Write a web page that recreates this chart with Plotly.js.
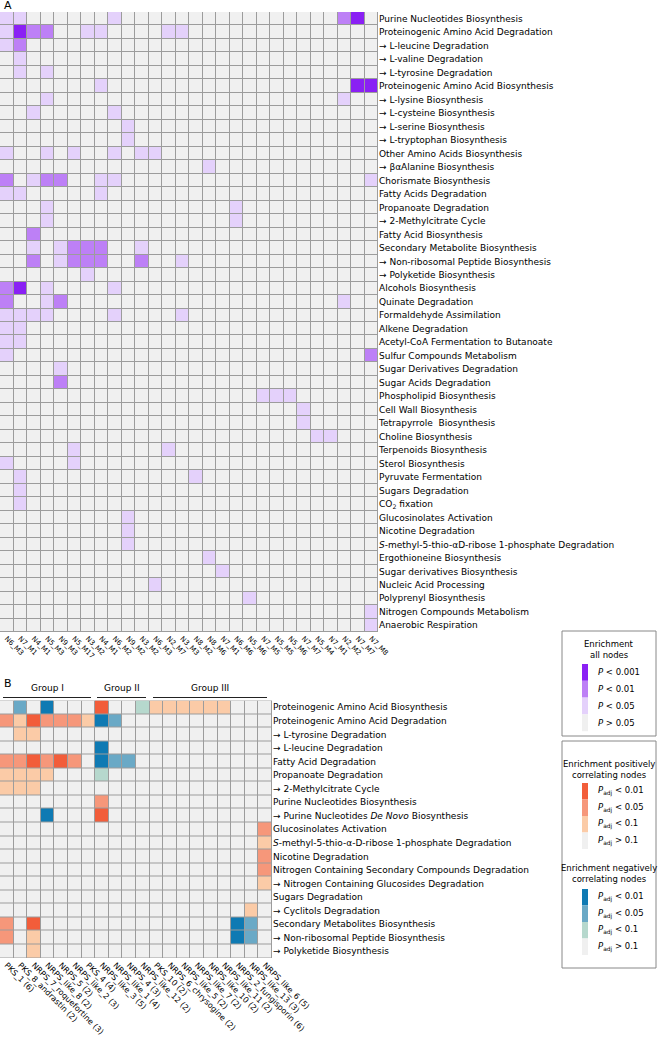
<!DOCTYPE html>
<html>
<head>
<meta charset="utf-8">
<script src="https://cdn.plot.ly/plotly-3.0.1.min.js"></script>
<style>html,body{margin:0;padding:0;background:#fff;}#chart{width:660px;height:1038px;}</style>
</head>
<body>
<div id="chart"></div>
<script>
// ---------------- Panel A data ----------------
const clustersA = ["N6_M3","N7_M1","N4_M1","N5_M3","N9_M3","N5_M17","N3_M2","N4_M1","N6_M2","N9_M2","N3_M2","N6_M3","N2_M7","N3_M3","N8_M2","N8_M6","N7_M1","N6_M6","N5_M6","N7_M5","N5_M5","N5_M6","N7_M7","N5_M4","N7_M1","N2_M2","N7_M7","N7_M8"];
const pathwaysA = [
"Purine Nucleotides Biosynthesis",
"Proteinogenic Amino Acid Degradation",
"→ L-leucine Degradation",
"→ L-valine Degradation",
"→ L-tyrosine Degradation",
"Proteinogenic Amino Acid Biosynthesis",
"→ L-lysine Biosynthesis",
"→ L-cysteine Biosynthesis",
"→ L-serine Biosynthesis",
"→ L-tryptophan Biosynthesis",
"Other Amino Acids Biosynthesis",
"→ βαAlanine Biosynthesis",
"Chorismate Biosynthesis",
"Fatty Acids Degradation",
"Propanoate Degradation",
"→ 2-Methylcitrate Cycle",
"Fatty Acid Biosynthesis",
"Secondary Metabolite Biosynthesis",
"→ Non-ribosomal Peptide Biosynthesis",
"→ Polyketide Biosynthesis",
"Alcohols Biosynthesis",
"Quinate Degradation",
"Formaldehyde Assimilation",
"Alkene Degradation",
"Acetyl-CoA Fermentation to Butanoate",
"Sulfur Compounds Metabolism",
"Sugar Derivatives Degradation",
"Sugar Acids Degradation",
"Phospholipid Biosynthesis",
"Cell Wall Biosynthesis",
"Tetrapyrrole  Biosynthesis",
"Choline Biosynthesis",
"Terpenoids Biosynthesis",
"Sterol Biosynthesis",
"Pyruvate Fermentation",
"Sugars Degradation",
"CO<sub>2</sub> fixation",
"Glucosinolates Activation",
"Nicotine Degradation",
"<i>S</i>-methyl-5-thio-αD-ribose 1-phosphate Degradation",
"Ergothioneine Biosynthesis",
"Sugar derivatives Biosynthesis",
"Nucleic Acid Processing",
"Polyprenyl Biosynthesis",
"Nitrogen Compounds Metabolism",
"Anaerobic Respiration"];
// enrichment level: 0 = P>0.05, 1 = P<0.05, 2 = P<0.01, 3 = P<0.001
const levelsA = [
[1,1,0,0,0,0,0,0,1,0,0,0,0,0,0,0,0,0,0,0,0,0,0,0,0,2,3,0],
[1,3,2,2,0,0,1,1,0,0,0,0,1,1,0,0,0,0,0,0,0,0,0,0,0,0,0,0],
[1,2,0,0,0,0,0,0,0,0,0,0,0,0,0,0,0,0,0,0,0,0,0,0,0,0,0,0],
[0,1,0,0,0,0,0,0,0,0,0,0,0,0,0,0,0,0,0,0,0,0,0,0,0,0,0,0],
[0,1,0,1,0,0,0,0,0,0,0,0,0,0,0,0,0,0,0,0,0,0,0,0,0,0,0,0],
[0,0,0,0,0,0,0,1,0,0,0,0,0,0,0,0,0,0,0,0,0,0,0,0,0,0,3,3],
[0,0,0,1,0,0,0,0,0,0,0,0,0,0,0,0,0,0,0,0,0,0,0,0,0,1,0,0],
[0,0,1,0,0,0,0,0,1,0,0,0,0,0,0,0,0,0,0,0,0,0,0,0,0,0,0,0],
[0,0,0,0,0,0,0,0,0,1,0,0,0,0,0,0,0,0,0,0,0,0,0,0,0,0,0,0],
[0,0,0,0,0,0,0,0,0,1,0,0,0,0,0,0,0,0,0,0,0,0,0,0,0,0,0,0],
[1,0,0,1,0,1,0,0,1,0,1,1,0,0,0,0,0,0,0,0,0,0,0,0,0,0,0,0],
[0,0,0,0,0,0,0,0,0,0,0,0,0,0,0,1,0,0,0,0,0,0,0,0,0,0,0,0],
[2,0,1,2,2,0,0,1,1,0,0,0,0,0,0,0,0,0,0,0,0,0,0,0,0,0,0,1],
[1,1,0,0,0,0,0,1,0,0,0,0,0,0,0,0,0,0,0,0,0,0,0,0,0,0,0,0],
[0,0,0,1,0,0,0,0,0,0,0,0,0,0,0,0,0,1,0,0,0,0,0,0,0,0,0,0],
[0,0,0,1,0,0,0,0,0,0,0,0,0,0,0,0,0,1,0,0,0,0,0,0,0,0,0,0],
[0,0,2,0,0,0,0,0,0,0,0,0,0,0,0,0,0,0,0,0,0,0,0,0,0,0,0,0],
[0,0,1,0,1,2,2,2,0,0,1,0,0,0,0,0,0,0,0,0,0,0,0,0,0,0,0,0],
[0,0,2,0,1,2,2,2,0,0,2,0,0,1,0,0,0,0,0,0,0,0,0,0,0,0,0,0],
[0,0,0,0,0,0,1,0,0,0,0,0,0,0,0,0,0,0,0,0,0,0,0,0,0,0,0,0],
[2,3,0,1,0,0,0,0,1,0,0,0,0,0,0,0,0,0,0,0,0,0,0,0,0,0,0,0],
[2,0,0,1,2,0,0,0,0,0,0,0,0,0,0,0,0,0,0,0,0,0,0,0,0,1,0,0],
[1,1,1,1,0,0,0,0,1,0,0,0,0,1,0,0,0,0,0,0,0,0,0,0,0,0,0,0],
[1,1,0,0,0,0,0,0,0,0,0,0,0,0,0,0,0,0,0,0,0,0,0,0,0,0,0,0],
[1,1,0,0,0,0,0,0,0,0,0,0,0,0,0,0,0,0,0,0,0,0,0,0,0,0,0,0],
[1,0,0,0,0,0,0,0,0,0,0,0,0,0,0,0,0,0,0,0,0,0,0,0,0,0,0,2],
[0,0,0,0,1,0,0,0,0,0,0,0,0,0,0,0,0,0,0,0,0,0,0,0,0,0,0,0],
[0,0,0,0,2,0,0,0,0,0,0,0,0,0,0,0,0,0,0,0,0,0,0,0,0,0,0,0],
[0,0,0,0,0,0,0,0,0,0,0,0,0,0,0,0,0,0,0,1,1,1,0,0,0,0,0,0],
[0,0,0,0,0,0,0,0,0,0,0,0,0,0,0,0,0,0,0,0,0,0,1,0,0,0,0,0],
[0,0,0,0,0,0,0,0,0,0,0,0,0,0,0,0,0,0,0,0,0,0,1,0,0,0,0,0],
[0,0,0,0,0,0,0,0,0,0,0,0,0,0,0,0,0,0,0,0,0,0,0,1,1,0,0,0],
[0,0,0,0,0,1,0,0,0,0,0,0,1,0,0,0,0,0,0,0,0,0,0,0,0,0,0,0],
[1,0,0,0,0,1,0,0,0,0,0,0,0,0,0,0,0,0,0,0,0,0,0,0,0,0,0,0],
[0,1,0,0,0,0,0,0,0,0,0,0,0,0,1,0,0,0,0,0,0,0,0,0,0,0,0,0],
[0,1,0,0,0,0,0,0,0,0,0,0,0,0,0,0,0,0,0,0,0,0,0,0,0,0,0,0],
[0,1,0,0,0,0,0,0,0,0,0,0,0,0,0,0,0,0,0,0,0,0,0,0,0,0,0,0],
[0,0,0,0,0,0,0,0,0,1,0,0,0,0,0,0,0,0,0,0,0,0,0,0,0,0,0,0],
[0,0,0,0,0,0,0,0,0,1,0,0,0,0,0,0,0,0,0,0,0,0,0,0,0,0,0,0],
[0,0,0,0,0,0,0,0,0,1,0,0,0,0,0,0,0,0,0,0,0,0,0,0,0,0,0,0],
[0,0,0,0,0,0,0,0,0,0,0,0,0,0,0,1,0,0,0,0,0,0,0,0,0,0,0,0],
[0,0,0,0,0,0,0,0,0,0,0,0,0,0,0,0,1,0,0,0,0,0,0,0,0,0,0,0],
[0,0,0,0,0,0,0,0,0,0,0,1,0,0,0,0,0,0,0,0,0,0,0,0,0,0,0,0],
[0,0,0,0,0,0,0,0,0,0,0,0,0,0,0,0,0,0,1,0,0,0,0,0,0,0,0,0],
[0,0,0,0,0,0,0,0,0,0,0,0,0,0,0,0,0,0,0,0,0,0,0,0,0,0,0,1],
[0,0,0,0,0,0,0,0,0,0,0,0,0,0,0,0,0,0,0,0,0,0,0,0,0,0,0,1]];

// ---------------- Panel B data ----------------
const clustersB = ["PKS_1 (6)","PKS_8_andrastin (2)","NRPS_7_roquefortine (3)","NRPS_like_8 (2)","NRPS_5 (2)","NRPS_like_2 (3)","PKS_4 (4)","NRPS_like_3 (5)","NRPS_like_1 (4)","NRPS_4 (3)","NRPS_like_12 (2)","PKS_10 (2)","NRPS_6_chrysogine (2)","NRPS_like_5 (2)","NRPS_like_7 (2)","NRPS_like_10 (2)","NRPS_like_11 (2)","NRPS_2_fungisporin (6)","NRPS_like_13 (3)","NRPS_like_6 (5)"];
const pathwaysB = [
"Proteinogenic Amino Acid Biosynthesis",
"Proteinogenic Amino Acid Degradation",
"→ L-tyrosine Degradation",
"→ L-leucine Degradation",
"Fatty Acid Degradation",
"Propanoate Degradation",
"→ 2-Methylcitrate Cycle",
"Purine Nucleotides Biosynthesis",
"→ Purine Nucleotides <i>De Novo</i> Biosynthesis",
"Glucosinolates Activation",
"<i>S</i>-methyl-5-thio-α-D-ribose 1-phosphate Degradation",
"Nicotine Degradation",
"Nitrogen Containing Secondary Compounds Degradation",
"→ Nitrogen Containing Glucosides Degradation",
"Sugars Degradation",
"→ Cyclitols Degradation",
"Secondary Metabolites Biosynthesis",
"→ Non-ribosomal Peptide Biosynthesis",
"→ Polyketide Biosynthesis"];
// +3/+2/+1 = positively correlating Padj<0.01/<0.05/<0.1 ; -3/-2/-1 = negatively correlating
const levelsB = [
[0,-2,0,-3,0,0,0,3,0,0,-1,1,1,1,1,1,1,0,0,0],
[2,1,3,2,2,2,1,-3,-2,0,0,0,0,0,0,0,0,0,0,0],
[0,1,1,0,0,0,0,0,0,0,0,0,0,0,0,0,0,0,0,0],
[0,0,0,0,0,0,0,-3,0,0,0,0,0,0,0,0,0,0,0,0],
[2,2,3,2,3,2,0,-3,-2,-2,0,0,0,0,0,0,0,0,0,0],
[1,1,1,1,0,0,0,-1,0,0,0,0,0,0,0,0,0,0,0,0],
[1,1,1,0,0,0,0,0,0,0,0,0,0,0,0,0,0,0,0,0],
[0,0,0,0,0,0,0,2,0,0,0,0,0,0,0,0,0,0,0,0],
[0,0,0,-3,0,0,0,3,0,0,0,0,0,0,0,0,0,0,0,0],
[0,0,0,0,0,0,0,0,0,0,0,0,0,0,0,0,0,0,0,2],
[0,0,0,0,0,0,0,0,0,0,0,0,0,0,0,0,0,0,0,1],
[0,0,0,0,0,0,0,0,0,0,0,0,0,0,0,0,0,0,0,2],
[0,0,0,0,0,0,0,0,0,0,0,0,0,0,0,0,0,0,0,2],
[0,0,0,0,0,0,0,0,0,0,0,0,0,0,0,0,0,0,0,1],
[0,0,0,0,0,0,0,0,0,0,0,0,0,0,0,0,0,0,0,0],
[0,0,0,0,0,0,0,0,0,0,0,0,0,0,0,0,0,0,1,0],
[2,0,3,0,0,0,0,0,0,0,0,0,0,0,0,0,0,-3,-2,0],
[2,0,1,0,0,0,0,0,0,0,0,0,0,0,0,0,0,-3,-2,0],
[0,0,1,0,0,0,0,0,0,0,0,0,0,0,0,0,0,0,0,0]];

const groupNames = ["Group I","Group II","Group III"];

// ---------------- styling ----------------
const W = 660, H = 1038;
const FONT = "DejaVu Sans";
const GREY = "#f0f0f0";
const PURPLE = ["#e4d1fb","#bd80f6","#8a20f4"];
const RED = ["#fbcba7","#f6977a","#f25d3a"];
const BLUE = ["#b6d8cd","#6aa9c6","#0f7ab3"];
const px = x => x / W;
const py = y => 1 - y / H;

const colsA = clustersA.map((_, i) => i);
const rowsA = pathwaysA.map((_, i) => i);
const colsB = clustersB.map((_, i) => i);
const rowsB = pathwaysB.map((_, i) => i);

const csA = [[0,GREY],[1/6,GREY],[1/6,PURPLE[0]],[0.5,PURPLE[0]],[0.5,PURPLE[1]],[5/6,PURPLE[1]],[5/6,PURPLE[2]],[1,PURPLE[2]]];
const csB = [[0,BLUE[2]],[1/12,BLUE[2]],[1/12,BLUE[1]],[3/12,BLUE[1]],[3/12,BLUE[0]],[5/12,BLUE[0]],[5/12,GREY],[7/12,GREY],[7/12,RED[0]],[9/12,RED[0]],[9/12,RED[1]],[11/12,RED[1]],[11/12,RED[2]],[1,RED[2]]];

const traceA = {type:"heatmap", x: colsA, y: rowsA, z: levelsA, zmin:0, zmax:3, colorscale: csA, showscale:false, xgap:1, ygap:1, hoverinfo:"skip", xaxis:"x", yaxis:"y"};
const traceB = {type:"heatmap", x: colsB, y: rowsB, z: levelsB, zmin:-3, zmax:3, colorscale: csB, showscale:false, xgap:1, ygap:1, hoverinfo:"skip", xaxis:"x2", yaxis:"y2"};

const axBase = {showgrid:false, zeroline:false, showline:false, ticks:"", fixedrange:true};
const A_RIGHT = 378, A_TOP = 12, A_BOT = 632;
const B_RIGHT = 272, B_TOP = 700.5, B_BOT = 958;

const annotations = [];
const shapes = [];
function txt(x, y, text, size, opts) {
  annotations.push(Object.assign({xref:"paper", yref:"paper", x:px(x), y:py(y), text:text, showarrow:false,
    font:{family:FONT, size:size, color:"#000"}, xanchor:"left", yanchor:"middle"}, opts||{}));
}
function rect(x0, y0, x1, y1, fill, line) {
  shapes.push({type:"rect", xref:"paper", yref:"paper", x0:px(x0), x1:px(x1), y0:py(y1), y1:py(y0),
    fillcolor:fill, line: line || {width:0}});
}

// panel letters
txt(2, 5, "A", 11);
txt(2, 683, "B", 11);

// group headers
const groupSpan = [[3,91],[97,146],[153,267]];
groupNames.forEach((g, i) => {
  const [a, b] = groupSpan[i];
  txt((a+b)/2, 688, g, 9, {xanchor:"center"});
  shapes.push({type:"line", xref:"paper", yref:"paper", x0:px(a), x1:px(b), y0:py(697.5), y1:py(697.5), line:{color:"#222", width:1.2}});
});

// legend 1
rect(562, 631, 656, 736, "rgba(0,0,0,0)", {color:"#888", width:1});
txt(609, 644, "Enrichment", 8.5, {xanchor:"center"});
txt(609, 655, "all nodes", 8.5, {xanchor:"center"});
const leg1 = ["<i>P</i> &lt; 0.001","<i>P</i> &lt; 0.01","<i>P</i> &lt; 0.05","<i>P</i> &gt; 0.05"];
const leg1c = [PURPLE[2], PURPLE[1], PURPLE[0], GREY];
leg1.forEach((t, i) => {
  const y0 = 664 + i*16.8;
  rect(582, y0, 588, y0+16.8, leg1c[i]);
  txt(596, y0+8.4, t, 8.5);
});

// legend 2
rect(562, 741, 656, 968, "rgba(0,0,0,0)", {color:"#888", width:1});
txt(609, 764, "Enrichment positively", 8.5, {xanchor:"center"});
txt(609, 775, "correlating nodes", 8.5, {xanchor:"center"});
const leg2 = ["<i>P</i><sub>adj</sub> &lt; 0.01","<i>P</i><sub>adj</sub> &lt; 0.05","<i>P</i><sub>adj</sub> &lt; 0.1","<i>P</i><sub>adj</sub> &gt; 0.1"];
const leg2p = [RED[2], RED[1], RED[0], GREY];
const leg2n = [BLUE[2], BLUE[1], BLUE[0], GREY];
leg2.forEach((t, i) => {
  const y0 = 783 + i*16.5;
  rect(582, y0, 588, y0+16.5, leg2p[i]);
  txt(596, y0+8.2, t, 8.5);
});
txt(609, 868, "Enrichment negatively", 8.5, {xanchor:"center"});
txt(609, 879, "correlating nodes", 8.5, {xanchor:"center"});
leg2.forEach((t, i) => {
  const y0 = 889 + i*16.5;
  rect(582, y0, 588, y0+16.5, leg2n[i]);
  txt(596, y0+8.2, t, 8.5);
});

const layout = {
  width: W, height: H,
  margin:{l:0, r:0, t:0, b:0, pad:0},
  paper_bgcolor:"#fff",
  plot_bgcolor:"#9c9c9c",
  showlegend:false,
  font:{family:FONT, size:9, color:"#000"},
  xaxis: Object.assign({}, axBase, {domain:[0, px(A_RIGHT)], range:[-0.5, clustersA.length-0.5],
    tickmode:"array", tickvals: colsA, ticktext: clustersA, tickangle:45, tickfont:{family:FONT, size:7}, anchor:"y"}),
  yaxis: Object.assign({}, axBase, {domain:[py(A_BOT), py(A_TOP)], range:[pathwaysA.length-0.5, -0.5],
    tickmode:"array", tickvals: rowsA, ticktext: pathwaysA, side:"right", tickfont:{family:FONT, size:9}, anchor:"x"}),
  xaxis2: Object.assign({}, axBase, {domain:[0, px(B_RIGHT)], range:[-0.5, clustersB.length-0.5],
    tickmode:"array", tickvals: colsB, ticktext: clustersB, tickangle:45, tickfont:{family:FONT, size:8}, anchor:"y2"}),
  yaxis2: Object.assign({}, axBase, {domain:[py(B_BOT), py(B_TOP)], range:[pathwaysB.length-0.5, -0.5],
    tickmode:"array", tickvals: rowsB, ticktext: pathwaysB, side:"right", tickfont:{family:FONT, size:9}, anchor:"x2"}),
  annotations: annotations,
  shapes: shapes
};

Plotly.newPlot("chart", [traceA, traceB], layout, {staticPlot:true, displayModeBar:false});
</script>
</body>
</html>
